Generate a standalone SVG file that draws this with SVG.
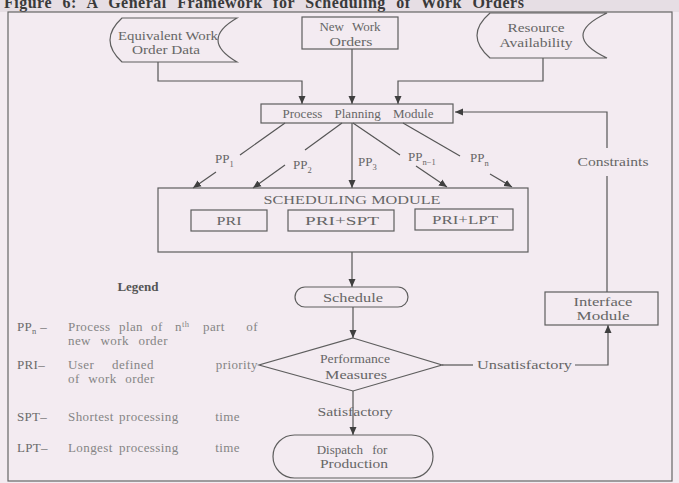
<svg xmlns="http://www.w3.org/2000/svg" width="679" height="483" viewBox="0 0 679 483">
<defs>
<marker id="ah" markerUnits="userSpaceOnUse" markerWidth="9" markerHeight="8" refX="8" refY="4" orient="auto"><path d="M0,0.5 L8,4 L0,7.5 z" fill="#3f3f3f"/></marker>
<style>
.ln{fill:none;stroke:#555;stroke-width:1.2}
.sh{fill:none;stroke:#5e5e5e;stroke-width:1.2}
.t{font-family:"Liberation Serif",serif;font-size:13px;fill:#666;text-anchor:middle}
.pp{font-family:"Liberation Serif",serif;font-size:13px;fill:#666}
.lk{font-family:"Liberation Serif",serif;font-size:13px;fill:#6a6a6a;letter-spacing:0.3px}
.lt{font-family:"Liberation Serif",serif;font-size:13px;fill:#858585;letter-spacing:0.4px}
.sub{font-size:8.5px}
</style>
</defs>
<rect x="0" y="0" width="679" height="483" fill="#f3ebf1"/>
<rect x="0" y="0" width="679" height="12" fill="#e6dee4"/>
<text x="4" y="8" font-family="Liberation Serif,serif" font-size="16" font-weight="bold" fill="#3a3a3a" letter-spacing="0.5" word-spacing="6">Figure 6: A General Framework for Scheduling of Work Orders</text>
<rect x="8" y="12" width="664" height="469" fill="none" stroke="#666" stroke-width="1.2"/>

<g id="connectors">
<path class="ln" d="M158,62 V81 H302 V104" marker-end="url(#ah)"/>
<path class="ln" d="M352,49 V104" marker-end="url(#ah)"/>
<path class="ln" d="M543,58 V81 H398 V104" marker-end="url(#ah)"/>
<path class="ln" d="M285,123 L240,155"/>
<path class="ln" d="M216,172 L193,188" marker-end="url(#ah)"/>
<path class="ln" d="M342,123 L305,150"/>
<path class="ln" d="M285,165 L253,188" marker-end="url(#ah)"/>
<path class="ln" d="M352,123 V188" marker-end="url(#ah)"/>
<path class="ln" d="M353,123 L400,155"/>
<path class="ln" d="M416,166 L447,187" marker-end="url(#ah)"/>
<path class="ln" d="M403,123 L460,156"/>
<path class="ln" d="M490,174 L512,187" marker-end="url(#ah)"/>
<path class="ln" d="M352,252 V287" marker-end="url(#ah)"/>
<path class="ln" d="M353,307 V338" marker-end="url(#ah)"/>
<path class="ln" d="M353,391 V435" marker-end="url(#ah)"/>
<path class="ln" d="M442,365 H473"/>
<path class="ln" d="M575,365 H608 V325" marker-end="url(#ah)"/>
<path class="ln" d="M607,292 V176"/>
<path class="ln" d="M607,148 V112 H455" marker-end="url(#ah)"/>
<text class="pp" x="215" y="162.5">PP<tspan class="sub" dy="4">1</tspan></text>
<text class="pp" x="293" y="169">PP<tspan class="sub" dy="4">2</tspan></text>
<text class="pp" x="358" y="166">PP<tspan class="sub" dy="4">3</tspan></text>
<text class="pp" x="408" y="161">PP<tspan class="sub" dy="4">n−1</tspan></text>
<text class="pp" x="470" y="162">PP<tspan class="sub" dy="4">n</tspan></text>
<text class="t" x="355" y="416" textLength="75" lengthAdjust="spacingAndGlyphs">Satisfactory</text>
<text class="t" x="524.5" y="369" textLength="95" lengthAdjust="spacingAndGlyphs">Unsatisfactory</text>
<text class="t" x="613" y="166" textLength="71" lengthAdjust="spacingAndGlyphs">Constraints</text>
</g>

<g id="equivalent">
<path class="sh" d="M122,18 L237,18 Q199,40 237,62 L122,62 Q98,40 122,18 Z"/>
<text class="t" x="168" y="39.5" textLength="100" lengthAdjust="spacingAndGlyphs">Equivalent Work</text>
<text class="t" x="166" y="53.5" textLength="68" lengthAdjust="spacingAndGlyphs">Order Data</text>
</g>
<g id="newwork">
<rect class="sh" x="302" y="17" width="96" height="32"/>
<text class="t" x="350" y="30.5" word-spacing="5">New Work</text>
<text class="t" x="351" y="46" textLength="43" lengthAdjust="spacingAndGlyphs">Orders</text>
</g>
<g id="resource">
<path class="sh" d="M490,13 L607,13 Q559,35.5 607,58 L490,58 Q464,35.5 490,13 Z"/>
<text class="t" x="536" y="31.5" textLength="57" lengthAdjust="spacingAndGlyphs">Resource</text>
<text class="t" x="536" y="46.5" textLength="73" lengthAdjust="spacingAndGlyphs">Availability</text>
</g>
<g id="ppm">
<rect class="sh" x="261" y="104" width="192" height="19"/>
<text class="t" x="358" y="118" word-spacing="9">Process Planning Module</text>
</g>
<g id="scheduling">
<rect class="sh" x="158" y="188" width="370" height="64"/>
<text class="t" x="352" y="204" textLength="177" lengthAdjust="spacingAndGlyphs">SCHEDULING MODULE</text>
</g>
<g id="pri">
<rect class="sh" x="191" y="210" width="76" height="21"/>
<text class="t" x="229" y="225" textLength="25" lengthAdjust="spacingAndGlyphs">PRI</text>
</g>
<g id="prispt">
<rect class="sh" x="288" y="210" width="106" height="21"/>
<text class="t" x="342" y="225" textLength="74" lengthAdjust="spacingAndGlyphs">PRI+SPT</text>
</g>
<g id="prilpt">
<rect class="sh" x="415" y="209" width="98" height="21"/>
<text class="t" x="465" y="224" textLength="66" lengthAdjust="spacingAndGlyphs">PRI+LPT</text>
</g>
<g id="schedule">
<rect class="sh" x="295" y="287" width="113" height="20" rx="10"/>
<text class="t" x="353" y="301.5" textLength="60" lengthAdjust="spacingAndGlyphs">Schedule</text>
</g>
<g id="performance">
<polygon class="sh" points="353,338 442,365 353,391 259,365"/>
<text class="t" x="355" y="363" textLength="70" lengthAdjust="spacingAndGlyphs">Performance</text>
<text class="t" x="356" y="379" textLength="62" lengthAdjust="spacingAndGlyphs">Measures</text>
</g>
<g id="dispatch">
<rect class="sh" x="273" y="435" width="160" height="43" rx="21.5"/>
<text class="t" x="352" y="454" word-spacing="6">Dispatch for</text>
<text class="t" x="354" y="468" textLength="68" lengthAdjust="spacingAndGlyphs">Production</text>
</g>
<g id="interface">
<rect class="sh" x="545" y="292" width="113" height="33"/>
<text class="t" x="603" y="306" textLength="59" lengthAdjust="spacingAndGlyphs">Interface</text>
<text class="t" x="603" y="320" textLength="53" lengthAdjust="spacingAndGlyphs">Module</text>
</g>
<g id="legend">
<text x="138" y="291" font-family="Liberation Serif,serif" font-size="13" font-weight="bold" fill="#555" text-anchor="middle">Legend</text>
<text class="lk" x="17" y="331">PP<tspan class="sub" dy="3">n</tspan><tspan dy="-3"> –</tspan></text>
<text class="lt" y="331"><tspan x="68">Process</tspan><tspan x="119">plan</tspan><tspan x="151">of</tspan><tspan x="175">n</tspan><tspan class="sub" dy="-4">th</tspan><tspan x="203" dy="4">part</tspan><tspan x="258" text-anchor="end">of</tspan></text>
<text class="lt" x="68" y="345" word-spacing="6">new work order</text>
<text class="lk" x="17" y="369">PRI–</text>
<text class="lt" y="369"><tspan x="68">User</tspan><tspan x="112">defined</tspan><tspan x="258" text-anchor="end">priority</tspan></text>
<text class="lt" x="68" y="383" word-spacing="5">of work order</text>
<text class="lk" x="17" y="421">SPT–</text>
<text class="lt" y="421"><tspan x="68">Shortest</tspan><tspan x="119">processing</tspan><tspan x="240" text-anchor="end">time</tspan></text>
<text class="lk" x="17" y="452">LPT–</text>
<text class="lt" y="452"><tspan x="68">Longest</tspan><tspan x="119">processing</tspan><tspan x="240" text-anchor="end">time</tspan></text>
</g>
</svg>
